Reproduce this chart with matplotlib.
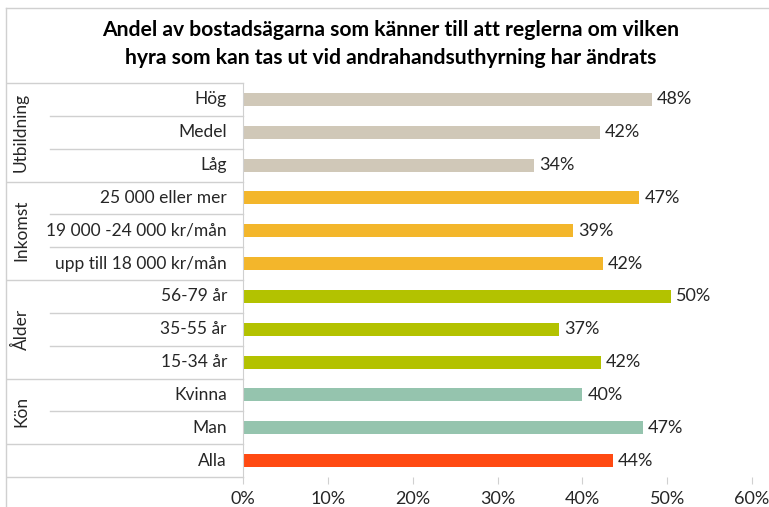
import matplotlib.pyplot as plt
import matplotlib.transforms as mtransforms
from matplotlib.lines import Line2D

plt.rcParams['font.family'] = ['Lato', 'DejaVu Sans']

# === DATA ===
categories = ["Hög", "Medel", "Låg",
              "25 000 eller mer", "19 000 -24 000 kr/mån", "upp till 18 000 kr/mån",
              "56-79 år", "35-55 år", "15-34 år",
              "Kvinna", "Man",
              "Alla"]
values = [48.2, 42.1, 34.3,
          46.7, 38.9, 42.4,
          50.4, 37.3, 42.2,
          40.0, 47.1,
          43.6]
group_names = ["Utbildning", "Inkomst", "Ålder", "Kön", ""]
group_sizes = [3, 3, 3, 2, 1]
group_colors = ["#D0C8B8", "#F3B62B", "#B3C200", "#95C4AE", "#FF4A12"]
xticks = [0, 10, 20, 30, 40, 50, 60]
title = ("Andel av bostadsägarna som känner till att reglerna om vilken\n"
         "hyra som kan tas ut vid andrahandsuthyrning har ändrats")

GRID = "#D0D0D0"
TEXT = "#262626"
FS = 12.5

colors = []
for c, n in zip(group_colors, group_sizes):
    colors += [c] * n

fig = plt.figure(figsize=(7.69, 5.07), dpi=100)
ax = fig.add_axes([243 / 769, 1 - 477 / 507, 509 / 769, 394 / 507])

ypos = list(range(len(categories)))
ax.barh(ypos, values, height=0.4, color=colors)
for y, v in zip(ypos, values):
    ax.text(v + 0.6, y, f"{v:.0f}%", va="center", ha="left", fontsize=13, color=TEXT)

ax.set_xlim(0, 60)
ax.set_ylim(len(categories) - 0.5, -0.5)
ax.set_xticks(xticks)
ax.set_xticklabels([f"{t}%" for t in xticks], fontsize=13, color=TEXT)
ax.set_yticks([])
for s in ["top", "right", "bottom"]:
    ax.spines[s].set_visible(False)
ax.spines["left"].set_color(GRID)
ax.tick_params(axis="x", length=5, color=GRID, pad=5)

# table on the left: category labels, group labels, separators
trans = mtransforms.blended_transform_factory(fig.transFigure, ax.transData)
x_tab = 7 / 769
x_inner = 50 / 769
x_axis = 243 / 769
x_lab = 227 / 769

for y, name in zip(ypos, categories):
    ax.text(x_lab, y, name, transform=trans, ha="right", va="center",
            fontsize=FS, color=TEXT)

start = 0
for name, n in zip(group_names, group_sizes):
    top = start - 0.5
    fig.add_artist(Line2D([x_tab, x_axis], [top, top], transform=trans, color=GRID, lw=1))
    for k in range(1, n):
        yy = start + k - 0.5
        fig.add_artist(Line2D([x_inner, x_axis], [yy, yy], transform=trans, color=GRID, lw=1))
    if name:
        ax.text(21 / 769, start + (n - 1) / 2, name, transform=trans, rotation=90,
                ha="center", va="center", fontsize=FS, color=TEXT)
    start += n
bottom = start - 0.5
fig.add_artist(Line2D([x_tab, x_axis], [bottom, bottom], transform=trans, color=GRID, lw=1))

# outer frame (top and left edges visible in crop)
fig.add_artist(Line2D([6 / 769, 1], [1 - 8 / 507, 1 - 8 / 507], color=GRID, lw=1))
fig.add_artist(Line2D([6 / 769, 6 / 769], [0, 1 - 8 / 507], color=GRID, lw=1))

fig.text(391 / 769, 1 - 44 / 507, title, ha="center", va="center",
         fontsize=15.2, fontweight="bold", color="black", linespacing=1.5)

fig.savefig("out.png", dpi=100)
